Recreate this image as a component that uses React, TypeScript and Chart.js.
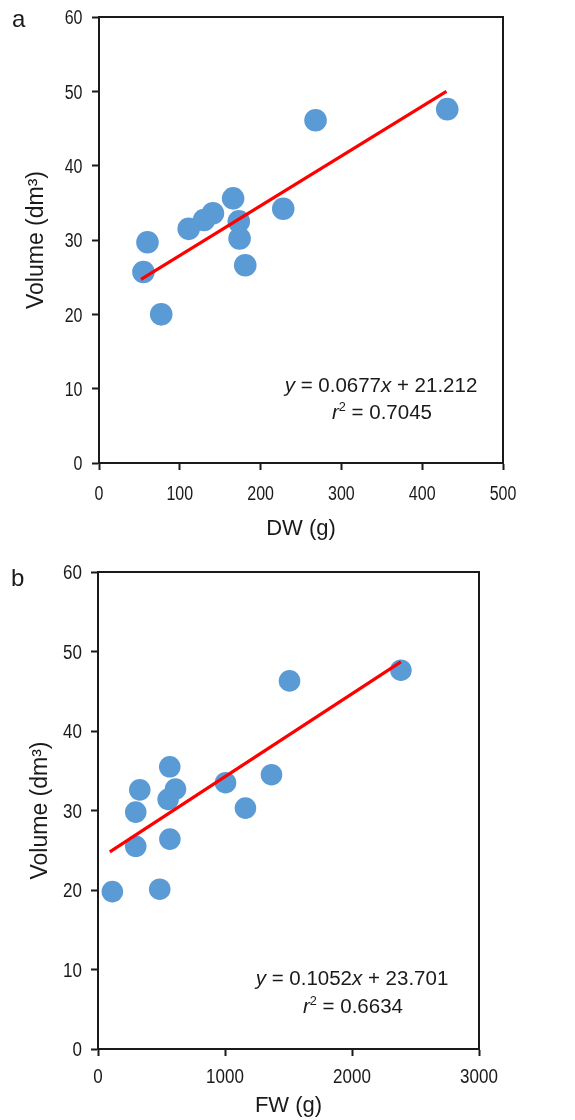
import React, { useEffect, useRef } from 'react';
import { Chart, registerables } from 'chart.js';

Chart.register(...registerables);

// ---------- Data ----------
// Panel a: dry weight vs volume
const DW_A = [55, 60, 77, 111, 130, 141, 166, 173, 174, 181, 228, 268, 431];
const VOL_A = [25.7, 29.7, 20.0, 31.5, 32.7, 33.6, 35.6, 32.5, 30.2, 26.6, 34.2, 46.1, 47.6];
const FIT_A_X = [52, 430];
const FIT_A_Y = [24.7, 50.0];
const X_TICKS_A = [0, 100, 200, 300, 400, 500];

// Panel b: fresh weight vs volume
const FW_B = [113, 297, 297, 329, 486, 552, 566, 565, 610, 1004, 1161, 1366, 1508, 2385];
const VOL_B = [19.8, 25.5, 29.8, 32.6, 20.1, 31.4, 26.4, 35.5, 32.7, 33.5, 30.3, 34.5, 46.3, 47.65];
const FIT_B_X = [93, 2385];
const FIT_B_Y = [24.8, 48.7];
const X_TICKS_B = [0, 1000, 2000, 3000];

const Y_TICKS = [0, 10, 20, 30, 40, 50, 60];

// ---------- Styles ----------
const POINT_COLOR = '#5B9BD5';
const LINE_COLOR = '#FF0000';
const INK = '#1a1a1a';
const SANS = "'Liberation Sans', Arial, sans-serif";

type Seg = { t: string; italic?: boolean; sup?: boolean };

function drawRich(ctx: CanvasRenderingContext2D, segs: Seg[], cx: number, baseline: number, size: number) {
  const fontFor = (s: Seg) =>
    `${s.italic ? 'italic ' : ''}${s.sup ? size * 0.62 : size}px ${SANS}`;
  const widths = segs.map((s) => {
    ctx.font = fontFor(s);
    return ctx.measureText(s.t).width;
  });
  const total = widths.reduce((a, b) => a + b, 0);
  let x = cx - total / 2;
  ctx.textAlign = 'left';
  ctx.textBaseline = 'alphabetic';
  segs.forEach((s, i) => {
    ctx.font = fontFor(s);
    ctx.fillText(s.t, x, baseline - (s.sup ? size * 0.4 : 0));
    x += widths[i];
  });
}

function drawNarrow(ctx: CanvasRenderingContext2D, text: string, x: number, y: number, align: CanvasTextAlign, squeeze: number) {
  ctx.save();
  ctx.translate(x, y);
  ctx.scale(squeeze, 1);
  ctx.textAlign = align;
  ctx.textBaseline = 'alphabetic';
  ctx.fillText(text, 0, 0);
  ctx.restore();
}

const framePlugin = {
  id: 'frameAndNotes',
  afterDraw(chart: any, _args: any, opts: any) {
    const { ctx, chartArea } = chart;
    const { left, top, right, bottom } = chartArea;
    ctx.save();
    ctx.strokeStyle = INK;
    ctx.lineWidth = 2;
    ctx.beginPath();
    ctx.moveTo(left, top);
    ctx.lineTo(right, top);
    ctx.lineTo(right, bottom);
    ctx.stroke();

    ctx.fillStyle = INK;
    // tick labels (condensed)
    ctx.font = `20px ${SANS}`;
    const xs = chart.scales.x;
    const ys = chart.scales.y;
    (opts.xTicks as number[]).forEach((v) => {
      drawNarrow(ctx, String(v), xs.getPixelForValue(v), bottom + opts.xLabelDy, 'center', opts.squeeze);
    });
    Y_TICKS.forEach((v) => {
      drawNarrow(ctx, String(v), left - opts.yLabelDx, ys.getPixelForValue(v) + 7.2, 'right', opts.squeeze);
    });

    // panel letter
    ctx.font = `24px ${SANS}`;
    ctx.textAlign = 'left';
    ctx.textBaseline = 'alphabetic';
    ctx.fillText(opts.letter, opts.letterX, opts.letterY);

    // equation
    drawRich(ctx, opts.eq1, opts.eqX, opts.eqY1, 20.5);
    drawRich(ctx, opts.eq2, opts.eqX + opts.eq2dx, opts.eqY2, 20.5);
    ctx.restore();
  },
};

interface PanelProps {
  xs: number[];
  ys: number[];
  fitX: number[];
  fitY: number[];
  xTicks: number[];
  xTitle: string;
  pointRadius: number;
  layout: {
    top: number; right: number; yWidth: number; xHeight: number;
    xTitlePad: number; yTitlePad: number;
  };
  notes: any;
  offsetTop: number;
}

function Panel(p: PanelProps) {
  const ref = useRef<HTMLCanvasElement | null>(null);
  useEffect(() => {
    if (!ref.current) return;
    const pts = p.xs.map((x, i) => ({ x, y: p.ys[i] }));
    const fit = p.fitX.map((x, i) => ({ x, y: p.fitY[i] }));
    const xMax = p.xTicks[p.xTicks.length - 1];
    const chart = new Chart(ref.current, {
      type: 'scatter',
      data: {
        datasets: [
          {
            data: fit,
            showLine: true,
            borderColor: LINE_COLOR,
            borderWidth: 3.2,
            pointRadius: 0,
            fill: false,
          } as any,
          {
            data: pts,
            backgroundColor: POINT_COLOR,
            borderWidth: 0,
            pointRadius: p.pointRadius,
          },
        ],
      },
      options: {
        animation: false,
        responsive: false,
        events: [],
        layout: { padding: { top: p.layout.top, right: p.layout.right, left: 0, bottom: 0 } },
        plugins: {
          legend: { display: false },
          tooltip: { enabled: false },
          frameAndNotes: { ...p.notes, xTicks: p.xTicks },
        } as any,
        scales: {
          x: {
            type: 'linear',
            min: 0,
            max: xMax,
            afterFit: (s: any) => { s.height = p.layout.xHeight; s.paddingLeft = 0; s.paddingRight = 0; },
            afterBuildTicks: (s: any) => { s.ticks = p.xTicks.map((v) => ({ value: v })); },
            ticks: { display: false, autoSkip: false },
            grid: {
              drawOnChartArea: false,
              drawTicks: true,
              tickLength: 7,
              tickColor: INK,
              tickWidth: 2,
            },
            border: { display: true, color: INK, width: 2 },
            title: {
              display: true,
              text: p.xTitle,
              color: INK,
              font: { family: SANS, size: 22 },
              padding: { top: 0, bottom: p.layout.xTitlePad },
            },
          },
          y: {
            type: 'linear',
            min: 0,
            max: 60,
            afterFit: (s: any) => { s.width = p.layout.yWidth; s.paddingTop = 0; s.paddingBottom = 0; },
            afterBuildTicks: (s: any) => { s.ticks = Y_TICKS.map((v) => ({ value: v })); },
            ticks: { display: false, autoSkip: false },
            grid: {
              drawOnChartArea: false,
              drawTicks: true,
              tickLength: 7,
              tickColor: INK,
              tickWidth: 2,
            },
            border: { display: true, color: INK, width: 2 },
            title: {
              display: true,
              text: 'Volume (dm³)',
              color: INK,
              font: { family: SANS, size: 23 },
              padding: { top: p.layout.yTitlePad, bottom: 0 },
            },
          },
        },
      },
      plugins: [framePlugin],
    });
    return () => chart.destroy();
  }, []);
  return (
    <div style={{ position: 'absolute', left: 0, top: p.offsetTop, width: 575, height: 560 }}>
      <canvas ref={ref} width={575} height={560} style={{ width: 575, height: 560, display: 'block' }} />
    </div>
  );
}

export default function App() {
  return (
    <div style={{ position: 'absolute', left: 0, top: 0, width: 575, height: 1120, background: '#fff' }}>
      <Panel
        xs={DW_A}
        ys={VOL_A}
        fitX={FIT_A_X}
        fitY={FIT_A_Y}
        xTicks={X_TICKS_A}
        xTitle="DW (g)"
        pointRadius={11.3}
        offsetTop={0}
        layout={{ top: 17, right: 72, yWidth: 99, xHeight: 97, xTitlePad: 18, yTitlePad: 23 }}
        notes={{
          letter: 'a', letterX: 12, letterY: 27,
          xLabelDy: 37, yLabelDx: 16.5, squeeze: 0.8,
          eqX: 381, eqY1: 392, eqY2: 419, eq2dx: 1,
          eq1: [{ t: 'y', italic: true }, { t: ' = 0.0677' }, { t: 'x', italic: true }, { t: ' + 21.212' }],
          eq2: [{ t: 'r', italic: true }, { t: '2', sup: true }, { t: ' = 0.7045' }],
        }}
      />
      <Panel
        xs={FW_B}
        ys={VOL_B}
        fitX={FIT_B_X}
        fitY={FIT_B_Y}
        xTicks={X_TICKS_B}
        xTitle="FW (g)"
        pointRadius={10.8}
        offsetTop={560}
        layout={{ top: 12, right: 96, yWidth: 98, xHeight: 71, xTitlePad: 1, yTitlePad: 27 }}
        notes={{
          letter: 'b', letterX: 11, letterY: 26,
          xLabelDy: 34, yLabelDx: 16, squeeze: 0.85,
          eqX: 352, eqY1: 425, eqY2: 453, eq2dx: 1,
          eq1: [{ t: 'y', italic: true }, { t: ' = 0.1052' }, { t: 'x', italic: true }, { t: ' + 23.701' }],
          eq2: [{ t: 'r', italic: true }, { t: '2', sup: true }, { t: ' = 0.6634' }],
        }}
      />
    </div>
  );
}
